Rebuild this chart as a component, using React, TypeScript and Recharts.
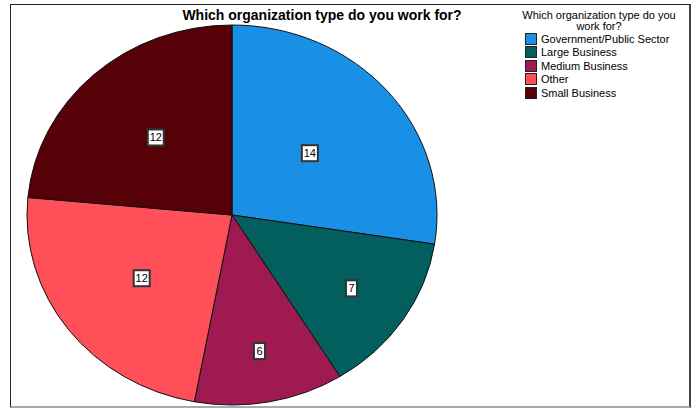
import { PieChart, Pie, Cell, Legend } from 'recharts';

const categories = ['Government/Public Sector', 'Large Business', 'Medium Business', 'Other', 'Small Business'];
const counts = [14, 7, 6, 12, 12];
const colors = ['#1A8FE6', '#035E5E', '#9E1A50', '#FF4F59', '#560008'];

const data = categories.map((name, i) => ({ name, value: counts[i] }));
const total = counts.reduce((a, b) => a + b, 0);

const RAD = Math.PI / 180;
// SPSS draws the pie a little wider than tall
const RX = 205;
const RY = 190;

function ellPoint(cx: number, cy: number, angle: number, f = 1) {
  return [cx + RX * f * Math.cos(-angle * RAD), cy + RY * f * Math.sin(-angle * RAD)];
}

function EllipseSector(props: any) {
  const { cx, cy, startAngle, endAngle, fill } = props;
  const [x1, y1] = ellPoint(cx, cy, startAngle);
  const [x2, y2] = ellPoint(cx, cy, endAngle);
  const large = Math.abs(endAngle - startAngle) > 180 ? 1 : 0;
  const sweep = endAngle < startAngle ? 1 : 0;
  const d = `M${cx},${cy} L${x1},${y1} A${RX},${RY} 0 ${large} ${sweep} ${x2},${y2} Z`;
  return <path d={d} fill={fill} stroke="#111" strokeWidth={1} />;
}

function BoxLabel(props: any) {
  const { cx, cy, midAngle, value } = props;
  // thinner slices get their label pushed further out
  const share = value / total;
  const f = Math.min(0.76, 0.5 + Math.max(0, 0.27 - share) * 1.5);
  const [x, y] = ellPoint(cx, cy, midAngle, f);
  const w = String(value).length > 1 ? 16 : 11;
  return (
    <g>
      <rect x={x - w / 2} y={y - 8} width={w} height={16} fill="#fff" stroke="#333" strokeWidth={2} />
      <text x={x} y={y + 4} textAnchor="middle" fontSize={11} fill="#000" fontFamily="'Liberation Sans', Arial, sans-serif">
        {value}
      </text>
    </g>
  );
}

function LegendBox() {
  return (
    <div style={{ fontFamily: "'Liberation Sans', Arial, sans-serif", fontSize: 11, color: '#000', width: 180 }}>
      <div style={{ textAlign: 'center', lineHeight: '11px', marginTop: 1 }}>
        Which organization type do you
        <br />
        work for?
      </div>
      {categories.map((c, i) => (
        <div key={c} style={{ display: 'flex', alignItems: 'center', height: 13.5, marginLeft: 16 }}>
          <span
            style={{
              display: 'inline-block',
              width: 10,
              height: 10,
              background: colors[i],
              border: '1px solid #222',
              marginRight: 4,
            }}
          />
          <span>{c}</span>
        </div>
      ))}
    </div>
  );
}

export default function App() {
  return (
    <div style={{ position: 'absolute', left: 0, top: 0, width: 699, height: 409, background: '#fff' }}>
      <div
        style={{
          position: 'absolute',
          left: 10,
          top: 4,
          width: 678,
          height: 401,
          borderLeft: '1px solid #222',
          borderTop: '1px solid #222',
          borderRight: '2px solid #444',
          borderBottom: '2px solid #aaa',
        }}
      />
      <div
        style={{
          position: 'absolute',
          left: 150,
          top: 7,
          width: 344,
          textAlign: 'center',
          fontFamily: "'Liberation Sans', Arial, sans-serif",
          fontWeight: 'bold',
          fontSize: 14,
        }}
      >
        Which organization type do you work for?
      </div>
      <PieChart
        width={699}
        height={409}
        margin={{ top: 0, right: 0, bottom: 0, left: 0 }}
        style={{ position: 'absolute', left: 0, top: 0 }}
      >
        <Pie
          data={data}
          dataKey="value"
          nameKey="name"
          cx={232}
          cy={215}
          outerRadius={190}
          startAngle={90}
          endAngle={-270}
          isAnimationActive={false}
          shape={EllipseSector}
          label={BoxLabel}
          labelLine={false}
        >
          {data.map((d, i) => (
            <Cell key={d.name} fill={colors[i]} />
          ))}
        </Pie>
        <Legend
          content={() => <LegendBox />}
          layout="vertical"
          wrapperStyle={{ position: 'absolute', left: 509, top: 9, width: 180 }}
        />
      </PieChart>
    </div>
  );
}
